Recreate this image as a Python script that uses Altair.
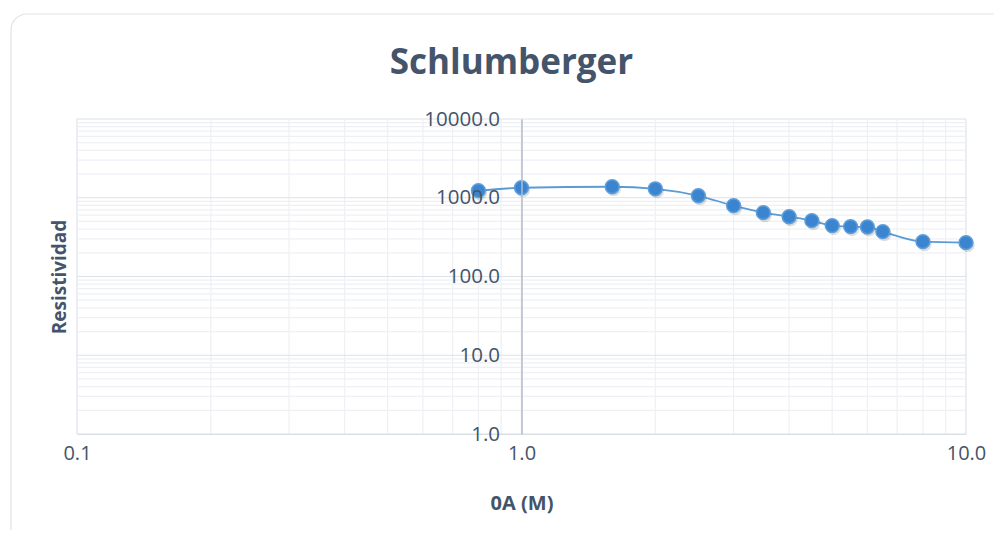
import altair as alt
import pandas as pd

# ---- data ----
ab2 = [0.8, 1.0, 1.6, 2.0, 2.5, 3.0, 3.5, 4.0, 4.5, 5.0, 5.5, 6.0, 6.5, 8.0, 10.0]
resist = [1230, 1340, 1380, 1300, 1060, 793, 646, 574, 512, 443, 430, 425, 371, 277, 269]

x_major = [0.1, 1.0, 10.0]
x_minor = [0.2, 0.3, 0.4, 0.5, 0.6, 0.7, 0.8, 0.9, 2, 3, 4, 5, 6, 7, 8, 9]
y_major = [1, 10, 100, 1000, 10000]
y_minor = [m * d for d in [1, 10, 100, 1000] for m in range(2, 10)]

W, H = 889, 315
FONT = "Open Sans"
TXT = "#44546a"

df = pd.DataFrame({"x": ab2, "y": resist})
gx = pd.DataFrame({"v": x_minor + x_major, "k": ["minor"] * len(x_minor) + ["major"] * len(x_major)})
gy = pd.DataFrame({"v": y_minor + y_major, "k": ["minor"] * len(y_minor) + ["major"] * len(y_major)})

xscale = alt.Scale(type="log", domain=[0.1, 10], nice=False)
yscale = alt.Scale(type="log", domain=[1, 10000], nice=False)
gcol = alt.Color("k:N", scale=alt.Scale(domain=["minor", "major"], range=["#eef0f4", "#dde2e9"]), legend=None)

xaxis = alt.Axis(
    values=x_major, format=".1f", grid=False, ticks=False, zindex=1,
    domainColor="#d9dee5", domainWidth=1.2,
    labelFont=FONT, labelFontSize=20, labelColor=TXT, labelPadding=9, labelFlush=False,
    title="0A (M)", titleFont=FONT, titleFontSize=20, titleFontWeight="bold",
    titleColor=TXT, titlePadding=30,
)
yaxis = alt.Axis(
    values=y_major, format=".1f", grid=False, ticks=False, offset=-(W / 2), zindex=1,
    domainColor="#b4bccb", domainWidth=1.5,
    labelFont=FONT, labelFontSize=20.5, labelColor=TXT, labelPadding=22, labelFlush=False,
    labelOverlap=False,
    title="Resistividad", titleFont=FONT, titleFontSize=19, titleFontWeight="bold",
    titleColor=TXT, titleX=-462, titleY=H / 2, titleAngle=-90,
    titleAlign="center", titleBaseline="middle",
)

frame = alt.Chart(pd.DataFrame({"a": [0]})).mark_rect(
    fill="white", stroke="#dfe4ea", strokeWidth=1.2, cornerRadius=16
).encode(x=alt.value(-66), x2=alt.value(W + 60), y=alt.value(-105), y2=alt.value(H + 130))

grid_x = alt.Chart(gx).mark_rule(strokeWidth=1.2).encode(
    x=alt.X("v:Q", scale=xscale, axis=xaxis), color=gcol
)
grid_y = alt.Chart(gy).mark_rule(strokeWidth=1.2).encode(
    y=alt.Y("v:Q", scale=yscale, axis=yaxis), color=gcol
)

line = alt.Chart(df).mark_line(interpolate="monotone", color="#5b9bd5", strokeWidth=1.8).encode(
    x=alt.X("x:Q", scale=xscale, axis=xaxis),
    y=alt.Y("y:Q", scale=yscale, axis=yaxis),
)
shadow = alt.Chart(df).mark_circle(size=200, color="#000000", opacity=0.13, xOffset=1.5, yOffset=2.5).encode(
    x=alt.X("x:Q", scale=xscale, axis=xaxis), y=alt.Y("y:Q", scale=yscale, axis=yaxis)
)
pts = alt.Chart(df).mark_circle(size=190, color="#3b84cf", stroke="#5e9ed9", strokeWidth=1.5, opacity=1).encode(
    x=alt.X("x:Q", scale=xscale, axis=xaxis), y=alt.Y("y:Q", scale=yscale, axis=yaxis)
)

chart = alt.layer(frame, grid_x, grid_y, line, shadow, pts).properties(
    width=W, height=H,
    title=alt.TitleParams("Schlumberger", font=FONT, fontSize=35, fontWeight="bold",
                          color=TXT, anchor="middle", dx=-10, offset=-68),
    padding={"left": 69, "top": 111, "right": 28, "bottom": 96},
    autosize="none",
).configure_view(stroke="#dde2e9", strokeWidth=1.2).configure(background="white")

chart.save("out.html", embed_options={"renderer": "svg", "actions": False})
